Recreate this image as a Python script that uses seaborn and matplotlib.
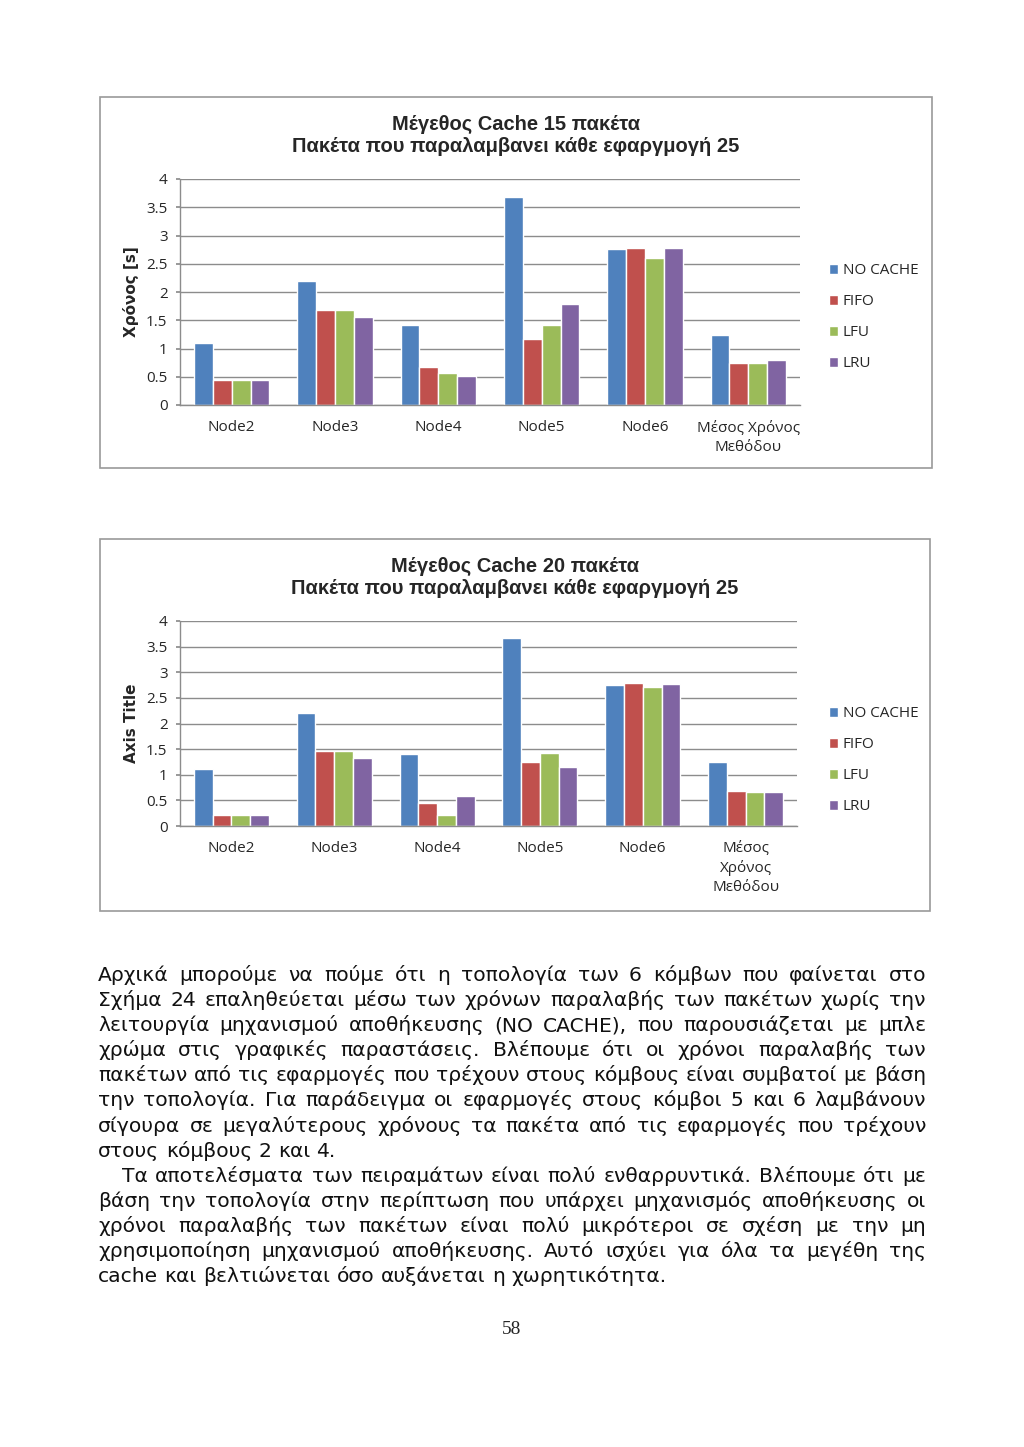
import matplotlib
matplotlib.use("Agg")
import matplotlib.pyplot as plt
import numpy as np
import pandas as pd
import seaborn as sns
from matplotlib.patches import Rectangle

W, H = 1024, 1447

nodes = ["Node2", "Node3", "Node4", "Node5", "Node6", "Μέσος Χρόνος Μεθόδου"]
policies = ["NO CACHE", "FIFO", "LFU", "LRU"]
colors = ["#4F81BD", "#C0504D", "#9BBB59", "#8064A2"]

# cache 15 packets
c15_nocache = [1.10, 2.19, 1.41, 3.68, 2.76, 1.24]
c15_fifo = [0.44, 1.69, 0.67, 1.17, 2.78, 0.75]
c15_lfu = [0.44, 1.68, 0.57, 1.41, 2.61, 0.74]
c15_lru = [0.44, 1.55, 0.52, 1.79, 2.78, 0.79]

# cache 20 packets
c20_nocache = [1.11, 2.20, 1.41, 3.67, 2.76, 1.24]
c20_fifo = [0.22, 1.46, 0.44, 1.25, 2.79, 0.68]
c20_lfu = [0.22, 1.46, 0.21, 1.43, 2.72, 0.67]
c20_lru = [0.22, 1.32, 0.59, 1.16, 2.78, 0.67]

xlabels_top = ["Node2", "Node3", "Node4", "Node5", "Node6", "Μέσος Χρόνος\nΜεθόδου"]
xlabels_bot = ["Node2", "Node3", "Node4", "Node5", "Node6", "Μέσος\nΧρόνος\nΜεθόδου"]

paragraph1 = [
    "Αρχικά μπορούμε να πούμε ότι η τοπολογία των 6 κόμβων που φαίνεται στο",
    "Σχήμα 24 επαληθεύεται μέσω των χρόνων παραλαβής των πακέτων χωρίς την",
    "λειτουργία μηχανισμού αποθήκευσης (NO CACHE), που παρουσιάζεται με μπλε",
    "χρώμα στις γραφικές παραστάσεις. Βλέπουμε ότι οι χρόνοι παραλαβής των",
    "πακέτων από τις εφαρμογές που τρέχουν στους κόμβους είναι συμβατοί με βάση",
    "την τοπολογία. Για παράδειγμα οι εφαρμογές στους κόμβοι 5 και 6 λαμβάνουν",
    "σίγουρα σε μεγαλύτερους χρόνους τα πακέτα από τις εφαρμογές που τρέχουν",
    "στους κόμβους 2 και 4.",
]
paragraph2 = [
    "Τα αποτελέσματα των πειραμάτων είναι πολύ ενθαρρυντικά. Βλέπουμε ότι με",
    "βάση την τοπολογία στην περίπτωση που υπάρχει μηχανισμός αποθήκευσης οι",
    "χρόνοι παραλαβής των πακέτων είναι πολύ μικρότεροι σε σχέση με την μη",
    "χρησιμοποίηση μηχανισμού αποθήκευσης. Αυτό ισχύει για όλα τα μεγέθη της",
    "cache και βελτιώνεται όσο αυξάνεται η χωρητικότητα.",
]

sns.set_theme(style="white")
plt.rcParams["font.family"] = ["Open Sans", "DejaVu Sans"]

fig = plt.figure(figsize=(W / 100, H / 100), dpi=100)
fig.patch.set_facecolor("white")


def fx(x):
    return x / W


def fy(y):
    return 1 - y / H


def frame(x0, y0, x1, y1):
    fig.patches.append(Rectangle((fx(x0), fy(y1)), fx(x1) - fx(x0), fy(y0) - fy(y1),
                                 transform=fig.transFigure, fill=False,
                                 edgecolor="#9a9a9a", lw=1.2))


def chart(box, axbox, vals, title, ylabel, xlabels, legend_y):
    frame(*box)
    x0, y0, x1, y1 = axbox
    ax = fig.add_axes([fx(x0), fy(y1), fx(x1) - fx(x0), fy(y0) - fy(y1)])
    df = pd.DataFrame({
        "node": nodes * 4,
        "policy": np.repeat(policies, len(nodes)),
        "time": np.concatenate(vals),
    })
    sns.barplot(data=df, x="node", y="time", hue="policy", hue_order=policies,
                palette=colors, saturation=1, width=0.73, gap=0, ax=ax,
                errorbar=None)
    ax.set_ylim(0, 4)
    ax.set_yticks(np.arange(0, 4.01, 0.5))
    ax.set_yticklabels(["0", "0.5", "1", "1.5", "2", "2.5", "3", "3.5", "4"],
                       fontsize=11)
    ax.set_xticks(range(len(nodes)))
    ax.set_xticklabels(xlabels, fontsize=11, linespacing=1.35)
    ax.tick_params(axis="x", length=0, pad=11)
    ax.tick_params(axis="y", length=3, color="#8c8c8c", left=True, pad=6)
    ax.yaxis.grid(True, color="#8c8c8c", lw=1)
    ax.set_axisbelow(True)
    for s in ["top", "right"]:
        ax.spines[s].set_visible(False)
    for s in ["left", "bottom"]:
        ax.spines[s].set_color("#8c8c8c")
        ax.spines[s].set_linewidth(1)
    ax.set_xlabel("")
    ax.set_ylabel(ylabel, fontsize=11, fontweight="bold", family="DejaVu Sans",
                  labelpad=5)
    handles, labels = ax.get_legend_handles_labels()
    ax.legend(handles, labels, loc="upper left", frameon=False, fontsize=11,
              bbox_to_anchor=(fx(box[0] + 723), fy(legend_y)),
              bbox_transform=fig.transFigure, handlelength=0.6, handleheight=0.6,
              handletextpad=0.3, labelspacing=1.05, borderaxespad=0)
    tx = (box[0] + box[2]) / 2
    for k, line in enumerate(title):
        fig.text(fx(tx), fy(box[1] + 27 + 23 * k), line, ha="center", va="center",
                 fontsize=14.5, fontweight="bold",
                 family=["Liberation Sans", "DejaVu Sans"])
    return ax


chart((100, 97, 932, 468), (180, 179, 800, 405),
      [c15_nocache, c15_fifo, c15_lfu, c15_lru],
      ("Μέγεθος Cache 15 πακέτα", "Πακέτα που παραλαμβανει κάθε εφαργμογή 25"),
      "Χρόνος [s]", xlabels_top, 257)
chart((100, 539, 930, 911), (180, 621, 797, 826),
      [c20_nocache, c20_fifo, c20_lfu, c20_lru],
      ("Μέγεθος Cache 20 πακέτα", "Πακέτα που παραλαμβανει κάθε εφαργμογή 25"),
      "Axis Title", xlabels_bot, 700)

# body text, justified by hand
renderer = fig.canvas.get_renderer()
left, right = 98, 926


def draw(x, y, s, fs):
    return fig.text(fx(x), fy(y), s, family=["DejaVu Sans"], fontsize=fs,
                    ha="left", va="baseline", color="#111111")


def measure(s, fs):
    t = draw(0, 0, s, fs)
    w = t.get_window_extent(renderer).width
    t.remove()
    return w


# size the font so the tightest line (line 5) leaves ~7px between words
base = 12
tight = paragraph1[4].split(" ")
words_w = sum(measure(w, base) for w in tight)
fs = base * (right - left - 7 * (len(tight) - 1)) / words_w

y = 981
for para in (paragraph1, paragraph2):
    for i, line in enumerate(para):
        x_start = left + (24 if para is paragraph2 and i == 0 else 0)
        words = line.split(" ")
        last = i == len(para) - 1
        widths = [measure(w, fs) for w in words]
        space = measure("a a", fs) - 2 * measure("a", fs)
        if not last and len(words) > 1:
            space = max(3, (right - x_start - sum(widths)) / (len(words) - 1))
        x = x_start
        for w, wd in zip(words, widths):
            draw(x, y, w, fs)
            x += wd + space
        y += 25.1

fig.text(fx(512), fy(1329), "58", ha="center", va="center", fontsize=14,
         family=["Liberation Serif", "DejaVu Serif"])

fig.savefig("out.png", dpi=100, facecolor="white")
